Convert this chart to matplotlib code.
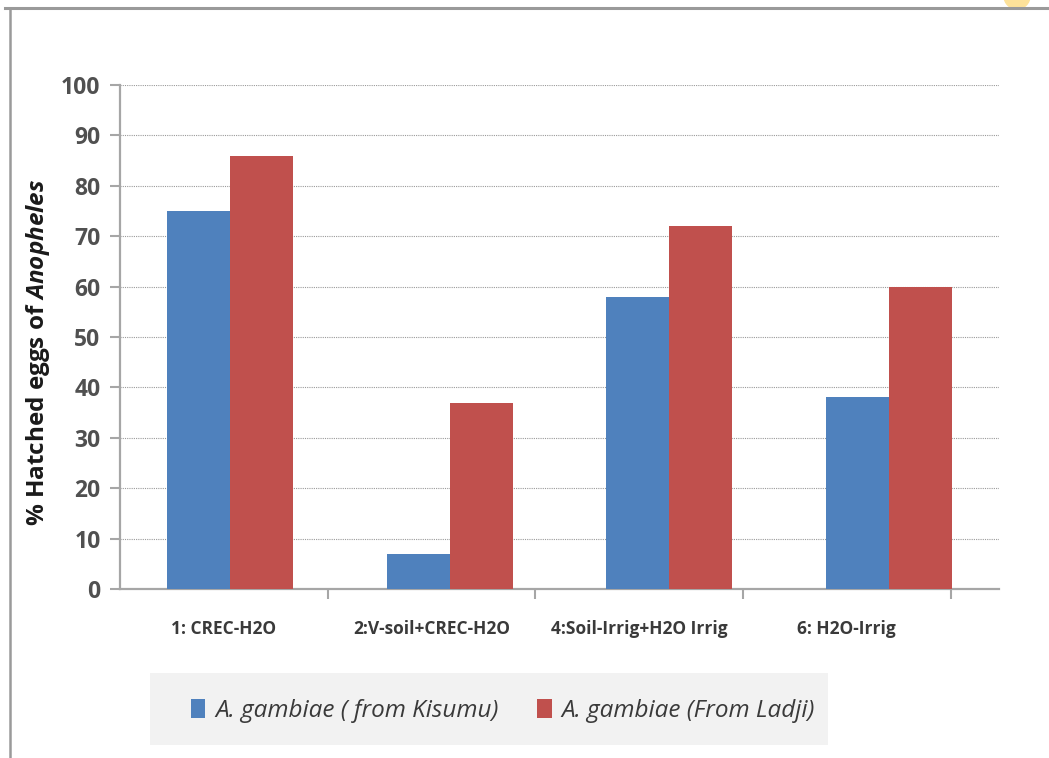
import matplotlib
matplotlib.use("Agg")
import matplotlib.pyplot as plt
from matplotlib.patches import Rectangle, Ellipse
from matplotlib.lines import Line2D
import numpy as np

categories = ["1: CREC-H2O", "2:V-soil+CREC-H2O", "4:Soil-Irrig+H2O Irrig", "6: H2O-Irrig"]
kisumu = [75, 7, 58, 38]
ladji = [86, 37, 72, 60]
series_names = ["A. gambiae ( from Kisumu)", "A. gambiae (From Ladji)"]
y_ticks = list(range(0, 101, 10))

blue = "#4F81BD"
red = "#C0504D"
axis_grey = "#a6a6a6"
text_col = "#3a3a3a"

plt.rcParams["font.family"] = ["Open Sans", "DejaVu Sans"]
plt.rcParams["mathtext.fontset"] = "custom"
plt.rcParams["mathtext.it"] = "Open Sans:italic:bold"

fig = plt.figure(figsize=(10.49, 7.58), dpi=100)
fig.patch.set_facecolor("white")

# screenshot frame
fig.add_artist(Line2D([5 / 1049, 1], [1 - 8 / 758, 1 - 8 / 758], color="#9a9a9a", lw=2.2, transform=fig.transFigure))
fig.add_artist(Line2D([10 / 1049, 10 / 1049], [0, 1 - 8 / 758], color="#9a9a9a", lw=1.8, transform=fig.transFigure))
fig.add_artist(Ellipse((1017 / 1049, 1 + 4 / 758), 26 / 1049, 26 / 758, color="#fde29a", transform=fig.transFigure, zorder=0))

# legend background
fig.add_artist(Rectangle((150 / 1049, 1 - 745 / 758), 678 / 1049, 72 / 758, facecolor="#f2f2f2", edgecolor="none", transform=fig.transFigure))

ax = fig.add_axes([120 / 1049, 1 - 589 / 758, 879 / 1049, 504 / 758])
x = np.arange(len(categories))
w = 0.287
ax.bar(x - w / 2, kisumu, w, color=blue, zorder=3, label=series_names[0])
ax.bar(x + w / 2, ladji, w, color=red, zorder=3, label=series_names[1])

ax.set_xlim(-0.5, len(categories) - 0.5)
ax.set_ylim(0, 100)
ax.set_yticks(y_ticks)
ax.yaxis.grid(True, linestyle=(0, (1, 1)), color="#9a9a9a", lw=0.8, zorder=0)
for s in ["top", "right"]:
    ax.spines[s].set_visible(False)
for s in ["left", "bottom"]:
    ax.spines[s].set_color(axis_grey)
    ax.spines[s].set_linewidth(1.6)

# category axis in the screenshot is slightly compressed relative to the bars
scale = 0.945
label_pos = [-0.5 + scale * (i + 0.5) for i in range(len(categories))]
tick_pos = [-0.5 + scale * (i + 1) for i in range(len(categories))]
ax.set_xticks(tick_pos)
ax.set_xticklabels([""] * len(tick_pos))
ax.set_xticks(label_pos, minor=True)
ax.set_xticklabels(categories, minor=True, fontsize=12.5, fontweight="bold", color=text_col)
ax.tick_params(axis="x", which="major", length=7, width=1.5, color=axis_grey, direction="out")
ax.tick_params(axis="x", which="minor", length=0, pad=22)
ax.tick_params(axis="y", length=7, width=1.5, color=axis_grey, labelsize=16.5, labelcolor="#505050", pad=7)
for lab in ax.get_yticklabels():
    lab.set_fontweight("bold")

ax.set_ylabel("% Hatched eggs of $\\it{Anopheles}$", fontsize=17.5, fontweight="bold", color="#1a1a1a")
ax.yaxis.set_label_coords(-0.077, 0.47)

handles, labels = ax.get_legend_handles_labels()
leg = fig.legend(handles, labels, loc="center", bbox_to_anchor=(503 / 1049, 1 - 711 / 758), ncol=2,
                 frameon=False, handlelength=0.6, handleheight=0.8, handletextpad=0.4, columnspacing=1.6,
                 prop={"style": "italic", "size": 17.5})
for t in leg.get_texts():
    t.set_color(text_col)

fig.savefig("out.png", dpi=100)
